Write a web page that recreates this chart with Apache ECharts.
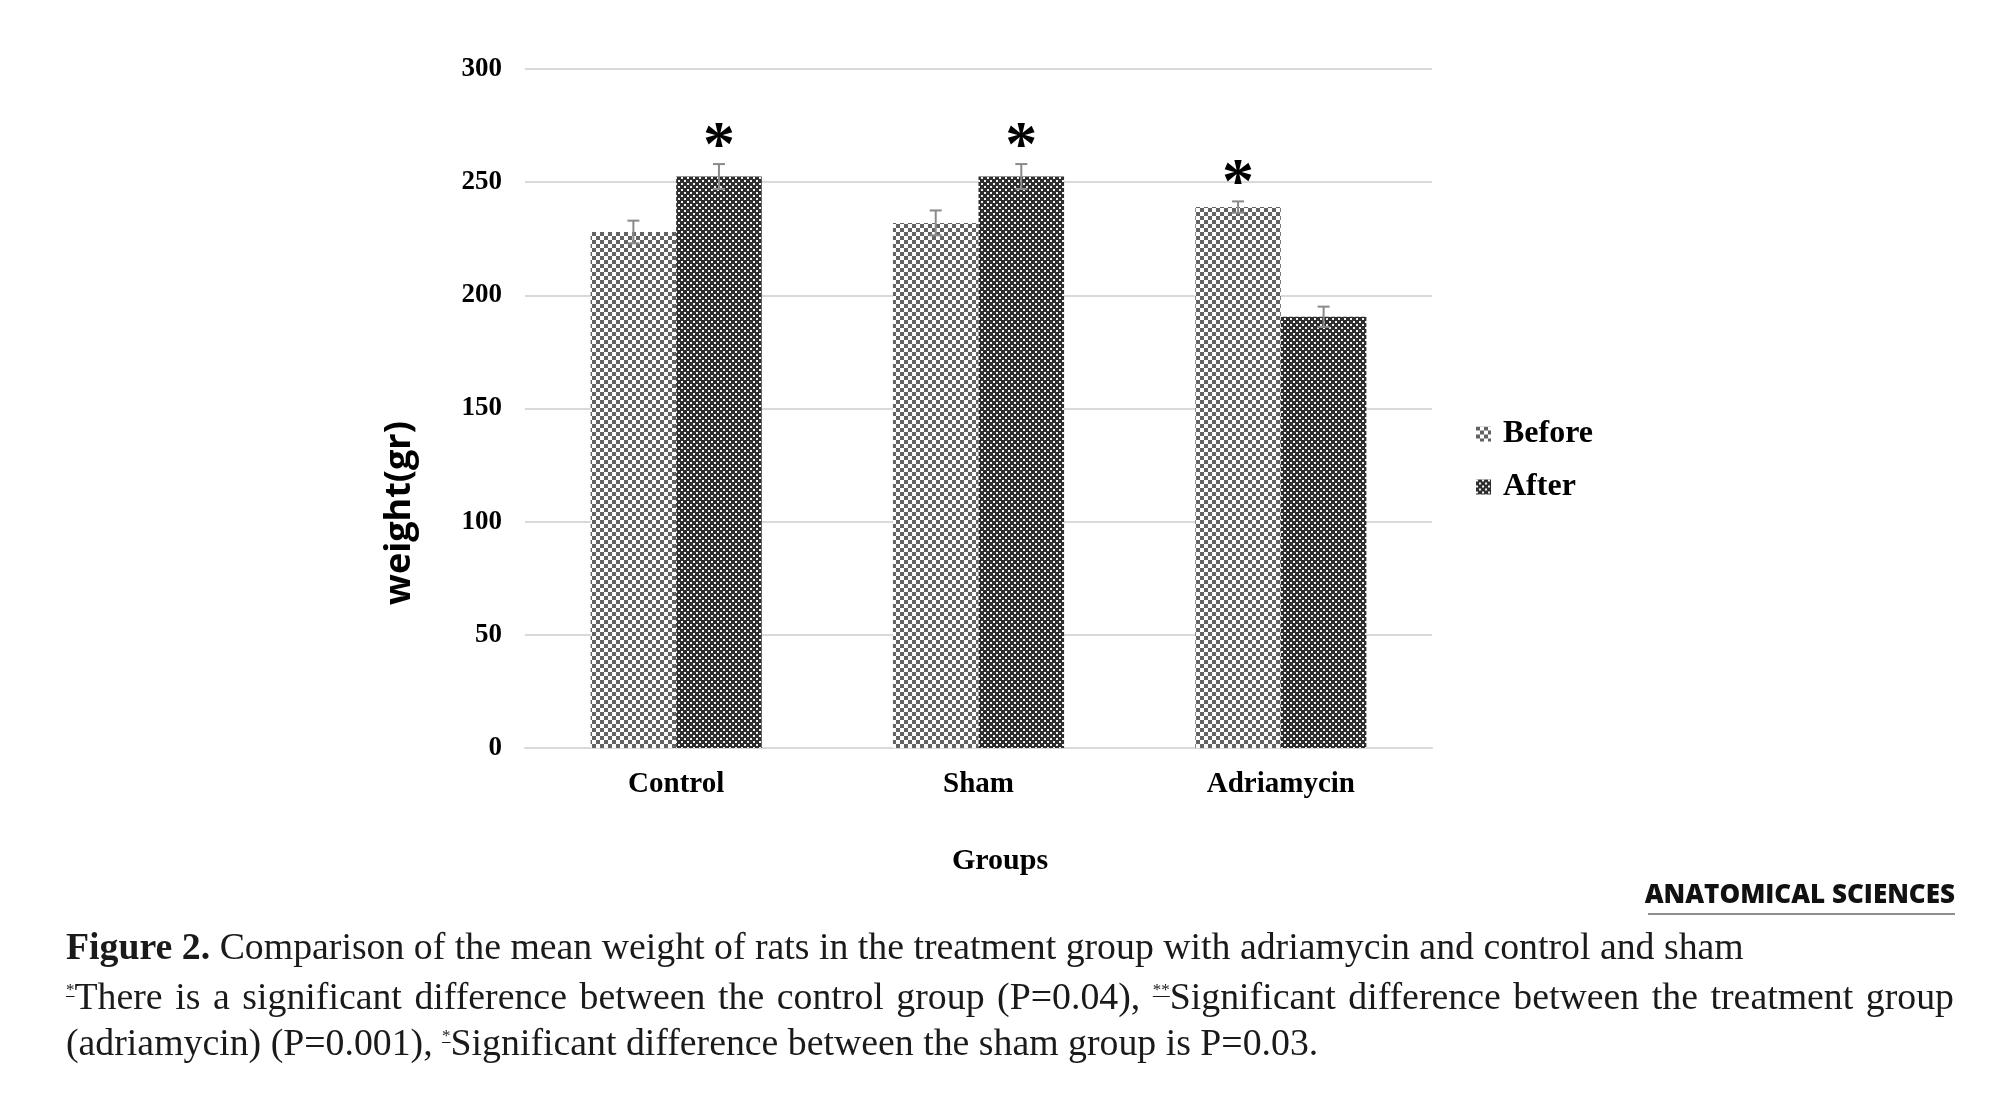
<!DOCTYPE html>
<html>
<head>
<meta charset="utf-8">
<script src="https://cdn.jsdelivr.net/npm/echarts@6/dist/echarts.min.js"></script>
<style>
body{margin:0;background:#fff;}
#main{position:absolute;left:0;top:0;width:2000px;height:1109px;}
.cap{position:absolute;left:66px;width:1888px;height:48px;font-family:"Liberation Serif",serif;font-size:37.8px;line-height:48px;color:#1a1a1a;white-space:nowrap;}
.cap.j{text-align:justify;text-align-last:justify;}
.cap .s{font-size:17px;position:relative;top:-14px;text-decoration:underline;}
</style>
</head>
<body>
<div id="main"></div>
<div class="cap" style="top:922px;"><b>Figure 2.</b> Comparison of the mean weight of rats in the treatment group with adriamycin and control and sham</div>
<div class="cap j" style="top:972px;"><span class="s">*</span>There is a significant difference between the control group (P=0.04), <span class="s">**</span>Significant difference between the treatment group</div>
<div class="cap" style="top:1018px;">(adriamycin) (P=0.001), <span class="s">*</span>Significant difference between the sham group is P=0.03.</div>
<script>
// 数据
var groups = ['Control', 'Sham', 'Adriamycin'];
var beforeVals = [228, 232, 239];
var afterVals = [252.5, 252.5, 190.5];
var beforeErr = [5, 5.5, 2.5];
var afterErr = [5.5, 5.5, 4.5];
var beforeStar = ['', '', '*'];
var afterStar = ['*', '*', ''];
var seriesNames = ['Before', 'After'];

var BAR_RATIO = 0.283;

/* 棋盘格填充 */
function makeBefore(){
    var c = document.createElement('canvas');
    c.width = 8; c.height = 8;
    var ctx = c.getContext('2d');
    ctx.fillStyle = '#ffffff';
    ctx.fillRect(0, 0, 8, 8);
    ctx.fillStyle = '#626262';
    ctx.fillRect(0, 0, 4, 4);
    ctx.fillRect(4, 4, 4, 4);
    return c;
}
function makeAfter(){
    var c = document.createElement('canvas');
    c.width = 6; c.height = 6;
    var ctx = c.getContext('2d');
    ctx.fillStyle = '#2e2e2e';
    ctx.fillRect(0, 0, 6, 6);
    ctx.fillStyle = '#f4f4f4';
    ctx.fillRect(0, 0, 2, 2);
    ctx.fillRect(3, 3, 2, 2);
    return c;
}

/* 误差线 + 星号 */
function errSeries(vals, errs, stars, side){
    return {
        type: 'custom',
        z: 5,
        silent: true,
        data: vals.map(function(v, i){ return [i, v, errs[i]]; }),
        encode: {x: 0, y: 1},
        renderItem: function(params, api){
            var i = api.value(0), v = api.value(1), e = api.value(2);
            var bw = api.size([1, 0])[0] * BAR_RATIO;
            var x = api.coord([i, v])[0] + side * bw / 2;
            var top = api.coord([i, v + e])[1];
            var bot = api.coord([i, v - e])[1];
            var st = {stroke: '#8a8a8a', lineWidth: 2};
            var kids = [
                {type: 'line', shape: {x1: x, y1: top, x2: x, y2: bot}, style: st},
                {type: 'line', shape: {x1: x - 6, y1: top, x2: x + 6, y2: top}, style: st},
                {type: 'line', shape: {x1: x - 6, y1: bot, x2: x + 6, y2: bot}, style: st}
            ];
            var s = stars[params.dataIndex];
            if (s) {
                kids.push({type: 'text', style: {
                    text: s, x: x, y: top - 16, align: 'center', verticalAlign: 'middle',
                    font: 'bold 64px "Liberation Serif"', fill: '#000'
                }});
            }
            return {type: 'group', children: kids};
        }
    };
}

var chart = echarts.init(document.getElementById('main'));
var serifBold = {fontFamily: 'Liberation Serif', fontWeight: 'bold', color: '#000'};

var option = {
    animation: false,
    grid: {left: 525, right: 568, top: 69, bottom: 361},
    legend: {
        orient: 'vertical',
        left: 1471,
        top: 413,
        data: seriesNames,
        icon: 'rect',
        itemWidth: 15,
        itemHeight: 15,
        itemGap: 21,
        textStyle: {fontFamily: 'Liberation Serif', fontWeight: 'bold', fontSize: 32, color: '#000', lineHeight: 32, padding: [0, 0, 0, 7]}
    },
    xAxis: {
        type: 'category',
        data: groups,
        axisLine: {lineStyle: {color: '#d9d9d9', width: 2}},
        axisTick: {show: false},
        axisLabel: Object.assign({margin: 22, fontSize: 29}, serifBold)
    },
    yAxis: {
        type: 'value',
        min: 0,
        max: 300,
        interval: 50,
        axisLine: {show: false},
        axisTick: {show: false},
        splitLine: {lineStyle: {color: '#d9d9d9', width: 2}},
        axisLabel: Object.assign({margin: 23, fontSize: 27}, serifBold)
    },
    graphic: [
        {type: 'text', x: 400, y: 513, rotation: Math.PI / 2,
         style: {text: 'weight(gr)', font: 'bold 36px "Open Sans"', fill: '#000', align: 'center', verticalAlign: 'middle'}},
        {type: 'text', x: 1000, y: 861,
         style: {text: 'Groups', font: 'bold 30px "Liberation Serif"', fill: '#000', align: 'center', verticalAlign: 'middle'}},
        {type: 'text', x: 1955, y: 896,
         style: {text: 'ANATOMICAL SCIENCES', font: '800 26px "Open Sans"', fill: '#111', align: 'right', verticalAlign: 'middle'}},
        {type: 'line', shape: {x1: 1648, y1: 914, x2: 1955, y2: 914}, style: {stroke: '#8f8f8f', lineWidth: 2}}
    ],
    series: [
        {
            name: 'Before',
            type: 'bar',
            data: beforeVals,
            barWidth: (BAR_RATIO * 100) + '%',
            barGap: '0%',
            itemStyle: {color: {image: makeBefore(), repeat: 'repeat'}},
            emphasis: {disabled: true}
        },
        {
            name: 'After',
            type: 'bar',
            data: afterVals,
            barWidth: (BAR_RATIO * 100) + '%',
            barGap: '0%',
            itemStyle: {color: {image: makeAfter(), repeat: 'repeat'}},
            emphasis: {disabled: true}
        },
        errSeries(beforeVals, beforeErr, beforeStar, -1),
        errSeries(afterVals, afterErr, afterStar, 1)
    ]
};
chart.setOption(option);
</script>
</body>
</html>
